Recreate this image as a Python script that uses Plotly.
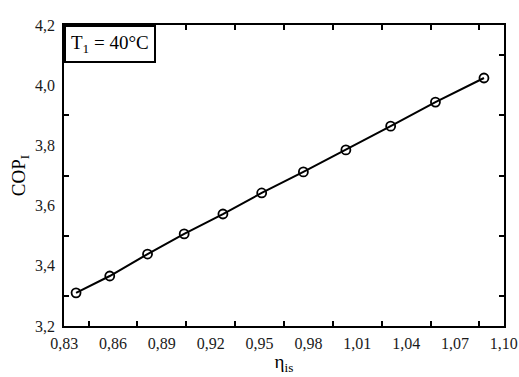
import plotly.graph_objects as go

eta_is = [0.8373, 0.858, 0.8812, 0.9037, 0.9275, 0.9513, 0.9769, 1.003, 1.0305, 1.058, 1.0878]
cop_1 = [3.310, 3.366, 3.439, 3.506, 3.572, 3.642, 3.712, 3.785, 3.864, 3.944, 4.024]

x_labels = [0.83, 0.86, 0.89, 0.92, 0.95, 0.98, 1.01, 1.04, 1.07, 1.10]
x_ticks = [0.845, 0.875, 0.905, 0.935, 0.965, 0.995, 1.025, 1.055, 1.085]
y_labels = [3.2, 3.4, 3.6, 3.8, 4.0, 4.2]
y_ticks = [3.3, 3.5, 3.7, 3.9, 4.1]

FONT = "Liberation Serif"
XR = [0.8299, 1.1001]
YR = [3.1999, 4.2001]

fig = go.Figure()
fig.add_trace(go.Scatter(
    x=eta_is, y=cop_1, mode="lines+markers",
    line=dict(color="black", width=2),
    marker=dict(symbol="circle-open", size=9, color="black", line=dict(width=1.8)),
    showlegend=False,
))
# dummy trace to activate label axes
fig.add_trace(go.Scatter(x=[None], y=[None], xaxis="x2", yaxis="y2", showlegend=False))

fig.update_layout(
    width=519, height=377,
    margin=dict(l=64, r=15, t=25, b=51, autoexpand=False),
    paper_bgcolor="white", plot_bgcolor="white",
    separators=", ",
    font=dict(family=FONT, size=16, color="#1a1a1a"),
    xaxis=dict(range=XR, tickvals=x_ticks, ticks="inside", ticklen=5,
               tickwidth=2, tickcolor="black", showticklabels=False,
               showline=True, linecolor="black", linewidth=2, mirror="ticks",
               showgrid=False, zeroline=False, automargin=False),
    xaxis2=dict(range=XR, overlaying="x", side="bottom",
                tickvals=x_labels, tickformat=".2f", ticks="", showline=False,
                showgrid=False, zeroline=False, ticklabelstandoff=6, automargin=False,
                ticklabeloverflow="allow",
                tickfont=dict(size=16, color="#1a1a1a"),
                title=dict(text="η<sub>is</sub>", font=dict(size=19, color="black"), standoff=3)),
    yaxis=dict(range=YR, tickvals=y_ticks, ticks="inside", ticklen=5,
               tickwidth=2, tickcolor="black", showticklabels=False,
               showline=True, linecolor="black", linewidth=2, mirror="ticks",
               showgrid=False, zeroline=False, automargin=False),
    yaxis2=dict(range=YR, overlaying="y", side="left",
                tickvals=y_labels, tickformat=".1f", ticks="", showline=False,
                showgrid=False, zeroline=False, ticklabelstandoff=8, automargin=False,
                ticklabeloverflow="allow",
                tickfont=dict(size=16, color="#1a1a1a"),
                title=dict(text="COP<sub>I</sub>", font=dict(size=19, color="black"), standoff=4)),
)

fig.add_annotation(
    xref="paper", yref="paper", x=0, y=1, xanchor="left", yanchor="top",
    text="T<sub>1</sub> = 40°C", showarrow=False,
    font=dict(family=FONT, size=19, color="black"),
    bordercolor="black", borderwidth=2, borderpad=5, bgcolor="white",
)

fig.write_html("out.html")
